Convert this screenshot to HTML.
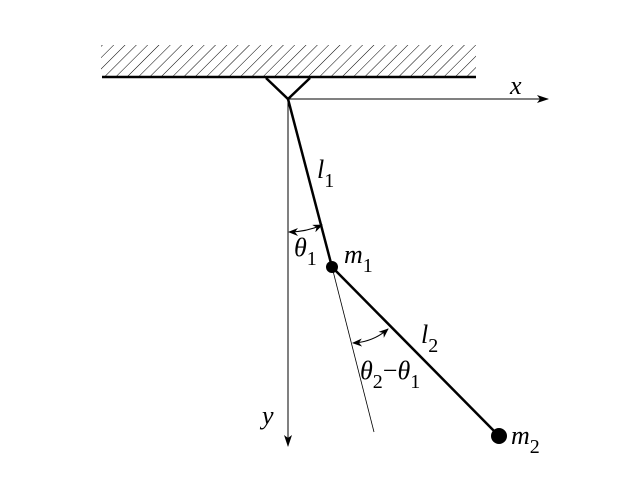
<!DOCTYPE html>
<html><head><style>body{margin:0;background:#fff}svg{display:block}text{font-family:"Liberation Serif",serif;font-style:italic;font-size:26px}.s{font-size:20px;font-style:normal}</style></head><body>
<svg width="640" height="480" viewBox="0 0 640 480">
<defs>
<pattern id="h" width="8" height="8" patternUnits="userSpaceOnUse" patternTransform="rotate(45)"><line x1="0" y1="0" x2="0" y2="8" stroke="#000" stroke-width="1"/></pattern>
<marker id="a" markerWidth="12" markerHeight="8" refX="11" refY="4" orient="auto" markerUnits="userSpaceOnUse"><path d="M0,0 L12,4 L0,8 L3,4z" fill="#000"/></marker>
<marker id="b" markerWidth="10" markerHeight="8" refX="9" refY="4" orient="auto-start-reverse" markerUnits="userSpaceOnUse"><path d="M0,0 L10,4 L0,8 L3,4z" fill="#000"/></marker>
</defs>
<rect x="101" y="45" width="375" height="31" fill="url(#h)"/>
<line x1="102" y1="77" x2="476" y2="77" stroke="#000" stroke-width="2.5"/>
<polyline points="266,78 288,99 310,78" fill="none" stroke="#000" stroke-width="2.5"/>
<line x1="288" y1="99" x2="548" y2="99" stroke="#000" stroke-width="1" marker-end="url(#a)"/>
<line x1="288" y1="99" x2="288" y2="446" stroke="#000" stroke-width="1" marker-end="url(#a)"/>
<line x1="288" y1="99" x2="332" y2="267" stroke="#000" stroke-width="2.5"/>
<line x1="332" y1="267" x2="499" y2="436" stroke="#000" stroke-width="2.5"/>
<line x1="332" y1="267" x2="374" y2="432" stroke="#000" stroke-width="0.8"/>
<circle cx="332" cy="267" r="6" fill="#000"/>
<circle cx="499" cy="436" r="8" fill="#000"/>
<path d="M289,232 Q306,232 322,225" fill="none" stroke="#000" stroke-width="1" marker-start="url(#b)" marker-end="url(#b)"/>
<path d="M353,343 Q373,342 388,329" fill="none" stroke="#000" stroke-width="1" marker-start="url(#b)" marker-end="url(#b)"/>
<text x="317" y="178">l<tspan class="s" dy="9">1</tspan></text>
<text x="294" y="256">θ<tspan class="s" dy="9">1</tspan></text>
<text x="344" y="263">m<tspan class="s" dy="9">1</tspan></text>
<text x="421" y="343">l<tspan class="s" dy="9">2</tspan></text>
<text x="360" y="379">θ<tspan class="s" dy="9">2</tspan><tspan dy="-9" style="font-style:normal">−</tspan>θ<tspan class="s" dy="9">1</tspan></text>
<text x="262" y="424">y</text>
<text x="510" y="94">x</text>
<text x="511" y="444">m<tspan class="s" dy="9">2</tspan></text>
</svg>
</body></html>
